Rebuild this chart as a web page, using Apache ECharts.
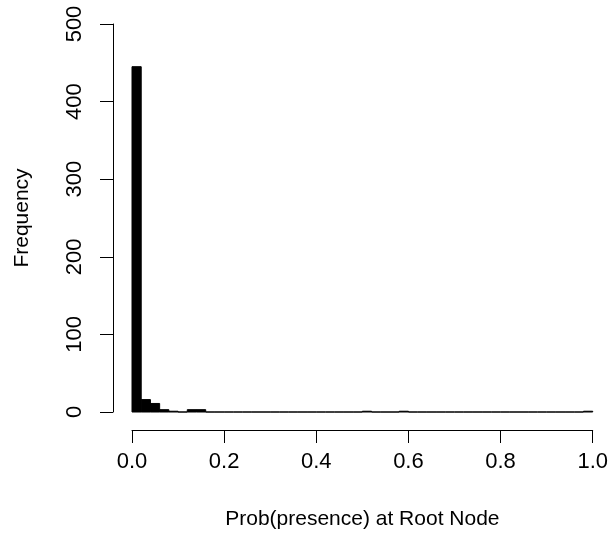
<!DOCTYPE html>
<html>
<head>
<meta charset="utf-8">
<script src="https://cdn.jsdelivr.net/npm/echarts@6/dist/echarts.min.js"></script>
<style>
  html, body { margin: 0; padding: 0; background: #fff; }
  #chart { width: 611px; height: 536px; }
</style>
</head>
<body>
<div id="chart"></div>
<script>
// Histogram of root-node presence probabilities, 50 bins of width 0.02
const binStart = 0;
const binWidth = 0.02;
const counts = [
  445, 16, 11, 3, 1, 0, 3, 3, 0, 0,
  0, 0, 0, 0, 0, 0, 0, 0, 0, 0,
  0, 0, 0, 0, 0, 1, 0, 0, 0, 1,
  0, 0, 0, 0, 0, 0, 0, 0, 0, 0,
  0, 0, 0, 0, 0, 0, 0, 0, 0, 1
];
const xTicks = [0, 0.2, 0.4, 0.6, 0.8, 1.0];
const yTicks = [0, 100, 200, 300, 400, 500];
const xTitle = 'Prob(presence) at Root Node';
const yTitle = 'Frequency';

const bins = counts.map((c, i) => [binStart + i * binWidth, binStart + (i + 1) * binWidth, c]);

const font = '"Liberation Sans", Arial, Helvetica, sans-serif';
const tickFs = 22;
const titleFs = 21;
const chart = echarts.init(document.getElementById('chart'), null, { renderer: 'canvas' });

chart.setOption({
  backgroundColor: '#ffffff',
  animation: false,
  grid: { left: 132, right: 16, top: 24, bottom: 124 },
  xAxis: {
    type: 'value',
    min: xTicks[0],
    max: xTicks[xTicks.length - 1],
    interval: 0.2,
    offset: 18,
    name: xTitle,
    nameLocation: 'middle',
    nameGap: 79,
    nameTextStyle: { fontFamily: font, fontSize: titleFs, color: '#000' },
    axisLine: { show: true, onZero: false, lineStyle: { color: '#000', width: 1 } },
    axisTick: { show: true, length: 13, lineStyle: { color: '#000', width: 1 } },
    axisLabel: {
      fontFamily: font, fontSize: tickFs, color: '#000', margin: 21,
      formatter: v => v.toFixed(1)
    },
    splitLine: { show: false }
  },
  yAxis: {
    type: 'value',
    min: yTicks[0],
    max: yTicks[yTicks.length - 1],
    interval: 100,
    offset: 19,
    name: yTitle,
    nameLocation: 'middle',
    nameGap: 80,
    nameTextStyle: { fontFamily: font, fontSize: titleFs, color: '#000' },
    axisLine: { show: true, onZero: false, lineStyle: { color: '#000', width: 1 } },
    axisTick: { show: true, length: 13, lineStyle: { color: '#000', width: 1 } },
    axisLabel: {
      fontFamily: font, fontSize: tickFs, color: '#000', margin: 27, rotate: 90
    },
    splitLine: { show: false }
  },
  series: [{
    type: 'custom',
    data: bins,
    encode: { x: [0, 1], y: 2 },
    renderItem: function (params, api) {
      const p0 = api.coord([api.value(0), 0]);
      const p1 = api.coord([api.value(1), api.value(2)]);
      return {
        type: 'rect',
        shape: { x: p0[0], y: p1[1], width: p1[0] - p0[0], height: p0[1] - p1[1] },
        style: { fill: '#000', stroke: '#000', lineWidth: 1 }
      };
    }
  }]
});
</script>
</body>
</html>
